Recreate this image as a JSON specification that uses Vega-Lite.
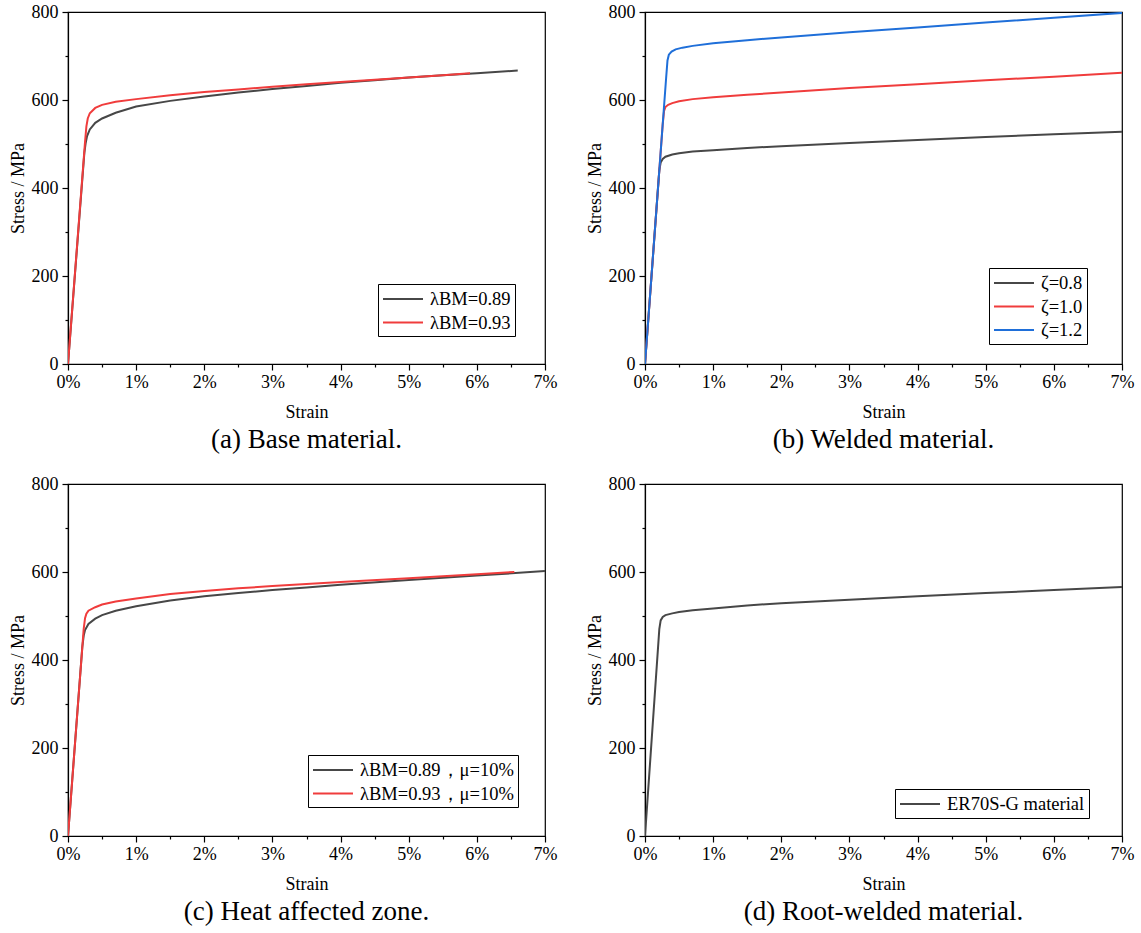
{
  "$schema": "https://vega.github.io/schema/vega-lite/v6.json",
  "padding": {"left": 8, "top": 2, "right": 5, "bottom": 5},
  "background": "white",
  "data": {"values": [
    {"panel":"a","series":"λBM=0.89","strain":0,"stress":0},
    {"panel":"a","series":"λBM=0.89","strain":0.24,"stress":480},
    {"panel":"a","series":"λBM=0.89","strain":0.26,"stress":503},
    {"panel":"a","series":"λBM=0.89","strain":0.28,"stress":518},
    {"panel":"a","series":"λBM=0.89","strain":0.32,"stress":533},
    {"panel":"a","series":"λBM=0.89","strain":0.4,"stress":548},
    {"panel":"a","series":"λBM=0.89","strain":0.5,"stress":558},
    {"panel":"a","series":"λBM=0.89","strain":0.7,"stress":571},
    {"panel":"a","series":"λBM=0.89","strain":1.0,"stress":585},
    {"panel":"a","series":"λBM=0.89","strain":1.5,"stress":598},
    {"panel":"a","series":"λBM=0.89","strain":2.0,"stress":608},
    {"panel":"a","series":"λBM=0.89","strain":2.5,"stress":617},
    {"panel":"a","series":"λBM=0.89","strain":3.0,"stress":625},
    {"panel":"a","series":"λBM=0.89","strain":3.5,"stress":632},
    {"panel":"a","series":"λBM=0.89","strain":4.0,"stress":639},
    {"panel":"a","series":"λBM=0.89","strain":4.5,"stress":645},
    {"panel":"a","series":"λBM=0.89","strain":5.0,"stress":651},
    {"panel":"a","series":"λBM=0.89","strain":5.5,"stress":656},
    {"panel":"a","series":"λBM=0.89","strain":6.0,"stress":661},
    {"panel":"a","series":"λBM=0.89","strain":6.6,"stress":667},
    {"panel":"a","series":"λBM=0.93","strain":0,"stress":0},
    {"panel":"a","series":"λBM=0.93","strain":0.25,"stress":505},
    {"panel":"a","series":"λBM=0.93","strain":0.27,"stress":540},
    {"panel":"a","series":"λBM=0.93","strain":0.29,"stress":558},
    {"panel":"a","series":"λBM=0.93","strain":0.32,"stress":570},
    {"panel":"a","series":"λBM=0.93","strain":0.4,"stress":582},
    {"panel":"a","series":"λBM=0.93","strain":0.5,"stress":589},
    {"panel":"a","series":"λBM=0.93","strain":0.7,"stress":596},
    {"panel":"a","series":"λBM=0.93","strain":1.0,"stress":602},
    {"panel":"a","series":"λBM=0.93","strain":1.5,"stress":611},
    {"panel":"a","series":"λBM=0.93","strain":2.0,"stress":618},
    {"panel":"a","series":"λBM=0.93","strain":2.5,"stress":624},
    {"panel":"a","series":"λBM=0.93","strain":3.0,"stress":630},
    {"panel":"a","series":"λBM=0.93","strain":3.5,"stress":636},
    {"panel":"a","series":"λBM=0.93","strain":4.0,"stress":641},
    {"panel":"a","series":"λBM=0.93","strain":4.5,"stress":646},
    {"panel":"a","series":"λBM=0.93","strain":5.0,"stress":651},
    {"panel":"a","series":"λBM=0.93","strain":5.5,"stress":656},
    {"panel":"a","series":"λBM=0.93","strain":5.9,"stress":661},
    {"panel":"b","series":"ζ=0.8","strain":0,"stress":0},
    {"panel":"b","series":"ζ=0.8","strain":0.21,"stress":440},
    {"panel":"b","series":"ζ=0.8","strain":0.23,"stress":458},
    {"panel":"b","series":"ζ=0.8","strain":0.26,"stress":466},
    {"panel":"b","series":"ζ=0.8","strain":0.3,"stress":471},
    {"panel":"b","series":"ζ=0.8","strain":0.4,"stress":476},
    {"panel":"b","series":"ζ=0.8","strain":0.5,"stress":479},
    {"panel":"b","series":"ζ=0.8","strain":0.7,"stress":483},
    {"panel":"b","series":"ζ=0.8","strain":1.0,"stress":486},
    {"panel":"b","series":"ζ=0.8","strain":1.5,"stress":491},
    {"panel":"b","series":"ζ=0.8","strain":2.0,"stress":495},
    {"panel":"b","series":"ζ=0.8","strain":3.0,"stress":502},
    {"panel":"b","series":"ζ=0.8","strain":4.0,"stress":509},
    {"panel":"b","series":"ζ=0.8","strain":5.0,"stress":516},
    {"panel":"b","series":"ζ=0.8","strain":6.0,"stress":522},
    {"panel":"b","series":"ζ=0.8","strain":7.0,"stress":528},
    {"panel":"b","series":"ζ=1.0","strain":0,"stress":0},
    {"panel":"b","series":"ζ=1.0","strain":0.26,"stress":545},
    {"panel":"b","series":"ζ=1.0","strain":0.28,"stress":575},
    {"panel":"b","series":"ζ=1.0","strain":0.3,"stress":584},
    {"panel":"b","series":"ζ=1.0","strain":0.34,"stress":589},
    {"panel":"b","series":"ζ=1.0","strain":0.4,"stress":593},
    {"panel":"b","series":"ζ=1.0","strain":0.5,"stress":597},
    {"panel":"b","series":"ζ=1.0","strain":0.7,"stress":602},
    {"panel":"b","series":"ζ=1.0","strain":1.0,"stress":606},
    {"panel":"b","series":"ζ=1.0","strain":1.5,"stress":612},
    {"panel":"b","series":"ζ=1.0","strain":2.0,"stress":617},
    {"panel":"b","series":"ζ=1.0","strain":3.0,"stress":627},
    {"panel":"b","series":"ζ=1.0","strain":4.0,"stress":636},
    {"panel":"b","series":"ζ=1.0","strain":5.0,"stress":645},
    {"panel":"b","series":"ζ=1.0","strain":6.0,"stress":653},
    {"panel":"b","series":"ζ=1.0","strain":7.0,"stress":662},
    {"panel":"b","series":"ζ=1.2","strain":0,"stress":0},
    {"panel":"b","series":"ζ=1.2","strain":0.31,"stress":650},
    {"panel":"b","series":"ζ=1.2","strain":0.33,"stress":690},
    {"panel":"b","series":"ζ=1.2","strain":0.35,"stress":703},
    {"panel":"b","series":"ζ=1.2","strain":0.39,"stress":710},
    {"panel":"b","series":"ζ=1.2","strain":0.45,"stress":715},
    {"panel":"b","series":"ζ=1.2","strain":0.55,"stress":719},
    {"panel":"b","series":"ζ=1.2","strain":0.7,"stress":723},
    {"panel":"b","series":"ζ=1.2","strain":1.0,"stress":729},
    {"panel":"b","series":"ζ=1.2","strain":1.5,"stress":736},
    {"panel":"b","series":"ζ=1.2","strain":2.0,"stress":742},
    {"panel":"b","series":"ζ=1.2","strain":3.0,"stress":754},
    {"panel":"b","series":"ζ=1.2","strain":4.0,"stress":765},
    {"panel":"b","series":"ζ=1.2","strain":5.0,"stress":776},
    {"panel":"b","series":"ζ=1.2","strain":6.0,"stress":787},
    {"panel":"b","series":"ζ=1.2","strain":7.0,"stress":798},
    {"panel":"c","series":"λBM=0.89，μ=10%","strain":0,"stress":0},
    {"panel":"c","series":"λBM=0.89，μ=10%","strain":0.21,"stress":430},
    {"panel":"c","series":"λBM=0.89，μ=10%","strain":0.23,"stress":455},
    {"panel":"c","series":"λBM=0.89，μ=10%","strain":0.25,"stress":468},
    {"panel":"c","series":"λBM=0.89，μ=10%","strain":0.3,"stress":482},
    {"panel":"c","series":"λBM=0.89，μ=10%","strain":0.4,"stress":494},
    {"panel":"c","series":"λBM=0.89，μ=10%","strain":0.5,"stress":502},
    {"panel":"c","series":"λBM=0.89，μ=10%","strain":0.7,"stress":512},
    {"panel":"c","series":"λBM=0.89，μ=10%","strain":1.0,"stress":522},
    {"panel":"c","series":"λBM=0.89，μ=10%","strain":1.5,"stress":535},
    {"panel":"c","series":"λBM=0.89，μ=10%","strain":2.0,"stress":545},
    {"panel":"c","series":"λBM=0.89，μ=10%","strain":2.5,"stress":552},
    {"panel":"c","series":"λBM=0.89，μ=10%","strain":3.0,"stress":559},
    {"panel":"c","series":"λBM=0.89，μ=10%","strain":3.5,"stress":565},
    {"panel":"c","series":"λBM=0.89，μ=10%","strain":4.0,"stress":571},
    {"panel":"c","series":"λBM=0.89，μ=10%","strain":5.0,"stress":582},
    {"panel":"c","series":"λBM=0.89，μ=10%","strain":6.0,"stress":592},
    {"panel":"c","series":"λBM=0.89，μ=10%","strain":7.0,"stress":602},
    {"panel":"c","series":"λBM=0.93，μ=10%","strain":0,"stress":0},
    {"panel":"c","series":"λBM=0.93，μ=10%","strain":0.23,"stress":470},
    {"panel":"c","series":"λBM=0.93，μ=10%","strain":0.25,"stress":495},
    {"panel":"c","series":"λBM=0.93，μ=10%","strain":0.27,"stress":505},
    {"panel":"c","series":"λBM=0.93，μ=10%","strain":0.3,"stress":512},
    {"panel":"c","series":"λBM=0.93，μ=10%","strain":0.4,"stress":520},
    {"panel":"c","series":"λBM=0.93，μ=10%","strain":0.5,"stress":526},
    {"panel":"c","series":"λBM=0.93，μ=10%","strain":0.7,"stress":533},
    {"panel":"c","series":"λBM=0.93，μ=10%","strain":1.0,"stress":540},
    {"panel":"c","series":"λBM=0.93，μ=10%","strain":1.5,"stress":550},
    {"panel":"c","series":"λBM=0.93，μ=10%","strain":2.0,"stress":557},
    {"panel":"c","series":"λBM=0.93，μ=10%","strain":2.5,"stress":563},
    {"panel":"c","series":"λBM=0.93，μ=10%","strain":3.0,"stress":568},
    {"panel":"c","series":"λBM=0.93，μ=10%","strain":3.5,"stress":573},
    {"panel":"c","series":"λBM=0.93，μ=10%","strain":4.0,"stress":577},
    {"panel":"c","series":"λBM=0.93，μ=10%","strain":5.0,"stress":586},
    {"panel":"c","series":"λBM=0.93，μ=10%","strain":6.0,"stress":595},
    {"panel":"c","series":"λBM=0.93，μ=10%","strain":6.55,"stress":600},
    {"panel":"d","series":"ER70S-G material","strain":0,"stress":0},
    {"panel":"d","series":"ER70S-G material","strain":0.21,"stress":470},
    {"panel":"d","series":"ER70S-G material","strain":0.23,"stress":490},
    {"panel":"d","series":"ER70S-G material","strain":0.26,"stress":498},
    {"panel":"d","series":"ER70S-G material","strain":0.3,"stress":502},
    {"panel":"d","series":"ER70S-G material","strain":0.4,"stress":506},
    {"panel":"d","series":"ER70S-G material","strain":0.5,"stress":509},
    {"panel":"d","series":"ER70S-G material","strain":0.7,"stress":513},
    {"panel":"d","series":"ER70S-G material","strain":1.0,"stress":517},
    {"panel":"d","series":"ER70S-G material","strain":1.5,"stress":524},
    {"panel":"d","series":"ER70S-G material","strain":2.0,"stress":529},
    {"panel":"d","series":"ER70S-G material","strain":3.0,"stress":537},
    {"panel":"d","series":"ER70S-G material","strain":4.0,"stress":545},
    {"panel":"d","series":"ER70S-G material","strain":5.0,"stress":552},
    {"panel":"d","series":"ER70S-G material","strain":6.0,"stress":559},
    {"panel":"d","series":"ER70S-G material","strain":7.0,"stress":566}
  ]},
  "columns": 2,
  "spacing": {"row": 20, "column": 27},
  "resolve": {"scale": {"color": "independent"}, "legend": {"color": "independent"}},
  "concat": [
    {
      "width": 477, "height": 352,
      "title": "(a) Base material.",
      "transform": [{"filter": "datum.panel === 'a'"}],
      "mark": {"type": "line", "strokeWidth": 2, "clip": true},
      "encoding": {
        "x": {"field": "strain", "type": "quantitative", "scale": {"domain": [0, 7], "nice": false},
              "axis": {"title": "Strain", "values": [0,0.5,1,1.5,2,2.5,3,3.5,4,4.5,5,5.5,6,6.5,7], "labelExpr": "datum.value % 1 === 0 ? datum.value + '%' : ''", "tickSize": {"condition": {"test": "datum.value % 1 !== 0", "value": 3}, "value": 6}}},
        "y": {"field": "stress", "type": "quantitative", "scale": {"domain": [0, 800], "nice": false},
              "axis": {"title": "Stress / MPa", "values": [0,100,200,300,400,500,600,700,800], "labelExpr": "datum.value % 200 === 0 ? datum.value : ''", "tickSize": {"condition": {"test": "datum.value % 200 !== 0", "value": 3}, "value": 6}}},
        "color": {"field": "series", "type": "nominal", "scale": {"domain": ["λBM=0.89", "λBM=0.93"], "range": ["#474747", "#f03c3c"]},
                  "legend": {"orient": "none", "legendX": 310, "legendY": 272}}
      }
    },
    {
      "width": 477, "height": 352,
      "title": "(b) Welded material.",
      "transform": [{"filter": "datum.panel === 'b'"}],
      "mark": {"type": "line", "strokeWidth": 2, "clip": true},
      "encoding": {
        "x": {"field": "strain", "type": "quantitative", "scale": {"domain": [0, 7], "nice": false},
              "axis": {"title": "Strain", "values": [0,0.5,1,1.5,2,2.5,3,3.5,4,4.5,5,5.5,6,6.5,7], "labelExpr": "datum.value % 1 === 0 ? datum.value + '%' : ''", "tickSize": {"condition": {"test": "datum.value % 1 !== 0", "value": 3}, "value": 6}}},
        "y": {"field": "stress", "type": "quantitative", "scale": {"domain": [0, 800], "nice": false},
              "axis": {"title": "Stress / MPa", "values": [0,100,200,300,400,500,600,700,800], "labelExpr": "datum.value % 200 === 0 ? datum.value : ''", "tickSize": {"condition": {"test": "datum.value % 200 !== 0", "value": 3}, "value": 6}}},
        "color": {"field": "series", "type": "nominal", "scale": {"domain": ["ζ=0.8", "ζ=1.0", "ζ=1.2"], "range": ["#474747", "#f03c3c", "#1f6fd9"]},
                  "legend": {"orient": "none", "legendX": 344, "legendY": 256}}
      }
    },
    {
      "width": 477, "height": 352,
      "title": "(c) Heat affected zone.",
      "transform": [{"filter": "datum.panel === 'c'"}],
      "mark": {"type": "line", "strokeWidth": 2, "clip": true},
      "encoding": {
        "x": {"field": "strain", "type": "quantitative", "scale": {"domain": [0, 7], "nice": false},
              "axis": {"title": "Strain", "values": [0,0.5,1,1.5,2,2.5,3,3.5,4,4.5,5,5.5,6,6.5,7], "labelExpr": "datum.value % 1 === 0 ? datum.value + '%' : ''", "tickSize": {"condition": {"test": "datum.value % 1 !== 0", "value": 3}, "value": 6}}},
        "y": {"field": "stress", "type": "quantitative", "scale": {"domain": [0, 800], "nice": false},
              "axis": {"title": "Stress / MPa", "values": [0,100,200,300,400,500,600,700,800], "labelExpr": "datum.value % 200 === 0 ? datum.value : ''", "tickSize": {"condition": {"test": "datum.value % 200 !== 0", "value": 3}, "value": 6}}},
        "color": {"field": "series", "type": "nominal", "scale": {"domain": ["λBM=0.89，μ=10%", "λBM=0.93，μ=10%"], "range": ["#474747", "#f03c3c"]},
                  "legend": {"orient": "none", "legendX": 240, "legendY": 271}}
      }
    },
    {
      "width": 477, "height": 352,
      "title": "(d) Root-welded material.",
      "transform": [{"filter": "datum.panel === 'd'"}],
      "mark": {"type": "line", "strokeWidth": 2, "clip": true},
      "encoding": {
        "x": {"field": "strain", "type": "quantitative", "scale": {"domain": [0, 7], "nice": false},
              "axis": {"title": "Strain", "values": [0,0.5,1,1.5,2,2.5,3,3.5,4,4.5,5,5.5,6,6.5,7], "labelExpr": "datum.value % 1 === 0 ? datum.value + '%' : ''", "tickSize": {"condition": {"test": "datum.value % 1 !== 0", "value": 3}, "value": 6}}},
        "y": {"field": "stress", "type": "quantitative", "scale": {"domain": [0, 800], "nice": false},
              "axis": {"title": "Stress / MPa", "values": [0,100,200,300,400,500,600,700,800], "labelExpr": "datum.value % 200 === 0 ? datum.value : ''", "tickSize": {"condition": {"test": "datum.value % 200 !== 0", "value": 3}, "value": 6}}},
        "color": {"field": "series", "type": "nominal", "scale": {"domain": ["ER70S-G material"], "range": ["#474747"]},
                  "legend": {"orient": "none", "legendX": 250, "legendY": 305}}
      }
    }
  ],
  "config": {
    "font": "Liberation Serif",
    "view": {"stroke": "black", "strokeWidth": 1.2},
    "axis": {
      "grid": false,
      "labelFont": "Liberation Serif", "labelFontSize": 18, "labelColor": "black",
      "titleFont": "Liberation Serif", "titleFontSize": 18, "titleFontWeight": "normal", "titleColor": "black",
      "domainColor": "black", "domainWidth": 1.2, "tickColor": "black", "tickWidth": 1.2
    },
    "axisX": {"labelPadding": 3, "titlePadding": 12, "labelFlush": false},
    "axisY": {"labelPadding": 4, "titlePadding": 4, "labelFlush": false},
    "legend": {
      "title": null,
      "fillColor": "white", "strokeColor": "black", "strokeWidth": 1,
      "padding": 4, "cornerRadius": 0,
      "labelFont": "Liberation Serif", "labelFontSize": 18.5, "labelColor": "black",
      "symbolType": "M-2,0H2", "symbolSize": 400, "symbolStrokeWidth": 2, "symbolOffset": 10,
      "rowPadding": 2.5, "labelOffset": 16
    },
    "title": {"font": "Liberation Serif", "fontSize": 27, "fontWeight": "normal", "color": "black", "orient": "bottom", "anchor": "middle", "offset": 6}
  }
}
